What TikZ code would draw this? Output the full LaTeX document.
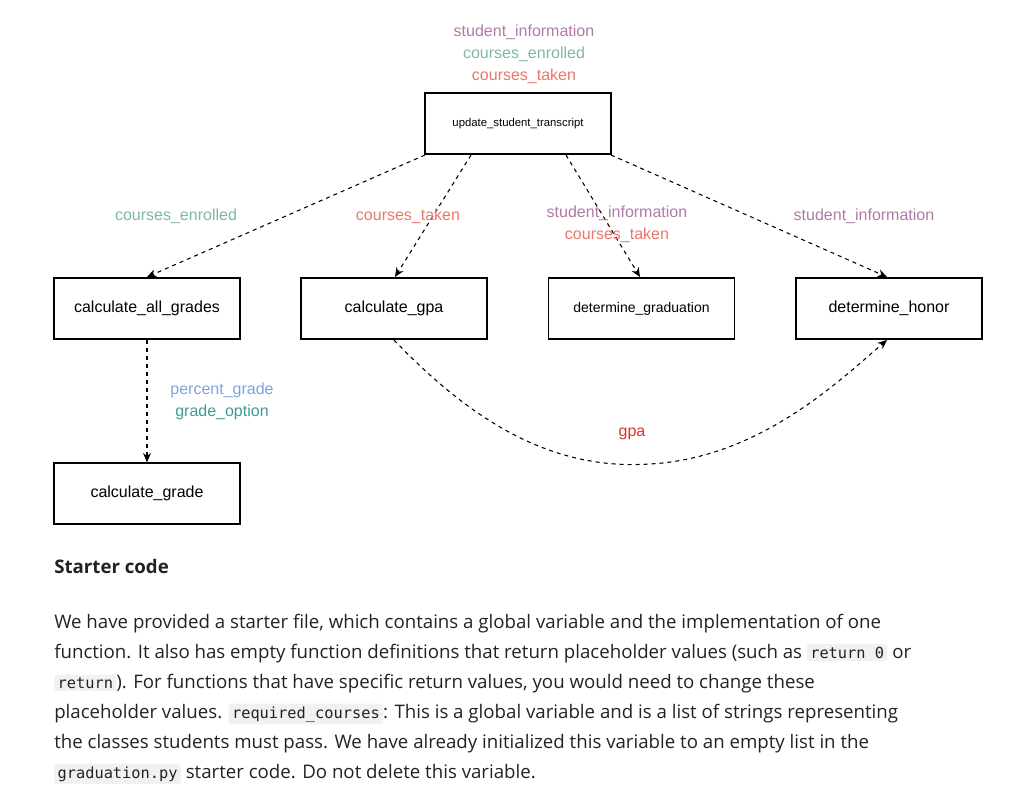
\documentclass[tikz,border=0pt]{standalone}
\usepackage{fontspec}
\setmainfont{Open Sans}
\newfontfamily\dsans{Liberation Sans}
\newfontfamily\dmono{DejaVu Sans Mono}
\usetikzlibrary{arrows.meta}
\definecolor{cpur}{HTML}{B07AA8}
\definecolor{cteal}{HTML}{7DB8A6}
\definecolor{csal}{HTML}{E8776C}
\definecolor{cblue}{HTML}{7FA3E0}
\definecolor{cdteal}{HTML}{3D9B92}
\definecolor{cred}{HTML}{E0302A}
\definecolor{ctxt}{HTML}{222222}
\definecolor{codebg}{HTML}{F1F1F1}
\newcommand{\cd}[1]{\tikz[baseline=(c.base)]\node(c)[fill=codebg,rounded corners=2pt,inner xsep=2.5pt,inner ysep=2pt]{\dmono\fontsize{11.5}{13}\selectfont #1};}
\begin{document}
\begin{tikzpicture}[x=0.75pt,y=-0.75pt,
  box/.style={draw,line width=1pt,minimum width=139.5pt,minimum height=45.75pt,inner sep=0pt,font=\dsans\fontsize{12}{14}\selectfont},
  lab/.style={font=\dsans\fontsize{12}{14}\selectfont},
  dl/.style={dashed,line width=0.8pt,-{Stealth[length=7pt,width=6pt]}},
  para/.style={anchor=base west,inner sep=0pt,text=ctxt,font=\fontsize{14}{17}\selectfont}]
\useasboundingbox (0,0) rectangle (1024,802);
\node[box,font=\dsans\fontsize{8.5}{10}\selectfont] (u) at (518,123.5) {update\_student\_transcript};
\node[box] (a) at (147,308.5) {calculate\_all\_grades};
\node[box] (g) at (394,308.5) {calculate\_gpa};
\node[box,font=\dsans\fontsize{10.5}{12}\selectfont] (d) at (641.5,308.5) {determine\_graduation};
\node[box] (h) at (889,308.5) {determine\_honor};
\node[box] (cg) at (147,493.5) {calculate\_grade};
\node[lab,text=cpur] (t1) at (524,32) {student\_information};
\node[lab,text=cteal] (t2) at (524,54) {courses\_enrolled};
\node[lab,text=csal] (t3) at (524,76) {courses\_taken};
\coordinate (u1) at (425,155); \coordinate (u2) at (471,155);
\coordinate (u3) at (566,155); \coordinate (u4) at (611,155);
\coordinate (e1) at (147,277); \coordinate (e2) at (395,277);
\coordinate (e3) at (640,277); \coordinate (e4) at (887,277);
\draw[dl] (u1) -- (e1);
\draw[dl] (u2) -- (e2);
\draw[dl] (u3) -- (e3);
\draw[dl] (u4) -- (e4);
\node[lab,text=cteal] (l1) at (176,216) {courses\_enrolled};
\node[lab,text=csal] (l2) at (408,216) {courses\_taken};
\node[lab,text=cpur] (l3) at (617,213) {student\_information};
\node[lab,text=csal] (l4) at (617,235) {courses\_taken};
\node[lab,text=cpur] (l5) at (864,216) {student\_information};
\draw[dl] (a.south) -- (cg.north);
\node[lab,text=cblue] (l6) at (222,390) {percent\_grade};
\node[lab,text=cdteal] (l7) at (222,412) {grade\_option};
\coordinate (gs) at (394,340); \coordinate (he) at (887,340);
\draw[dl] (gs) .. controls (480,430) and (560,470) .. (650,464) .. controls (760,458) and (840,380) .. (he);
\node[lab,text=cred] (l8) at (632,434) {gpa};
\node[para,font=\bfseries\fontsize{14}{17}\selectfont] (s) at (54,573) {Starter code};
\node[para] (p1) at (54,628) {We have provided a starter file, which contains a global variable and the implementation of one};
\node[para] (p2) at (54,658) {function. It also has empty function definitions that return placeholder values (such as \cd{return 0} or};
\node[para] (p3) at (54,688) {\cd{return}). For functions that have specific return values, you would need to change these};
\node[para] (p4) at (54,718) {placeholder values. \cd{required\_courses}: This is a global variable and is a list of strings representing};
\node[para] (p5) at (54,748) {the classes students must pass. We have already initialized this variable to an empty list in the};
\node[para] (p6) at (54,778) {\cd{graduation.py} starter code. Do not delete this variable.};
\end{tikzpicture}
\end{document}
